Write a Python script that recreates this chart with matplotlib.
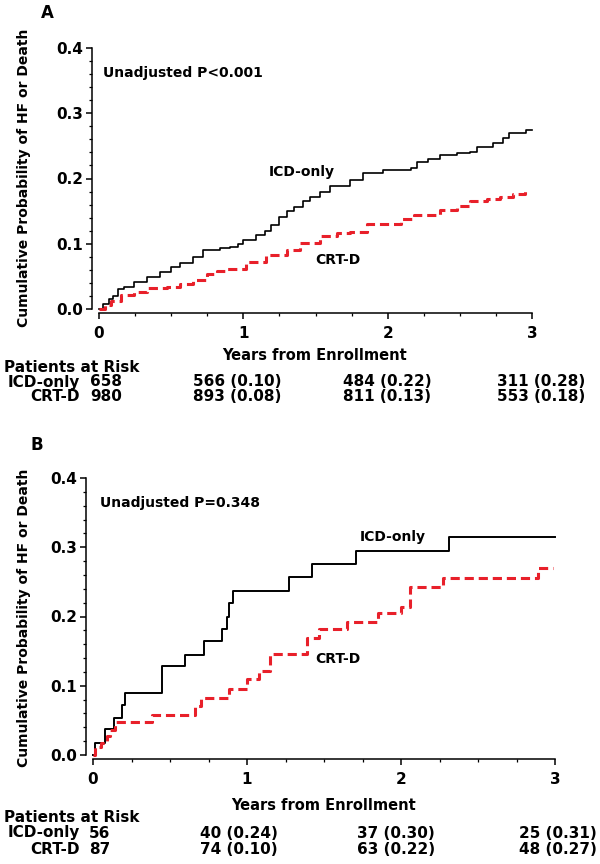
import matplotlib
matplotlib.use("Agg")
import matplotlib.pyplot as plt
from matplotlib.ticker import MultipleLocator

# panel A: all patients (years, cumulative probability)
a_icd_t = [0, 0.03, 0.07, 0.10, 0.13, 0.17, 0.24, 0.33, 0.42, 0.50, 0.56, 0.65, 0.72, 0.84,
           0.91, 0.96, 1.00, 1.09, 1.15, 1.19, 1.25, 1.30, 1.35, 1.41, 1.46, 1.53, 1.60, 1.74,
           1.83, 1.97, 2.16, 2.20, 2.28, 2.36, 2.48, 2.57, 2.62, 2.73, 2.80, 2.84, 2.96, 3.00]
a_icd_p = [0, 0.008, 0.015, 0.020, 0.030, 0.034, 0.041, 0.049, 0.057, 0.064, 0.070, 0.080, 0.090, 0.093,
           0.095, 0.100, 0.106, 0.113, 0.120, 0.129, 0.141, 0.150, 0.157, 0.165, 0.172, 0.179, 0.189, 0.197,
           0.208, 0.213, 0.216, 0.225, 0.230, 0.236, 0.239, 0.241, 0.248, 0.254, 0.262, 0.270, 0.274, 0.274]
a_crt_t = [0, 0.04, 0.08, 0.15, 0.24, 0.33, 0.47, 0.56, 0.65, 0.75, 0.82, 0.89, 1.02, 1.16, 1.30,
           1.39, 1.53, 1.65, 1.74, 1.86, 2.09, 2.18, 2.36, 2.48, 2.57, 2.69, 2.78, 2.87, 2.95, 2.98]
a_crt_p = [0, 0.006, 0.012, 0.021, 0.026, 0.032, 0.034, 0.039, 0.044, 0.054, 0.058, 0.062, 0.072, 0.082, 0.090,
           0.101, 0.112, 0.116, 0.118, 0.131, 0.138, 0.144, 0.152, 0.158, 0.166, 0.168, 0.172, 0.177, 0.181, 0.181]

# panel B
b_icd_t = [0, 0.01, 0.08, 0.136, 0.186, 0.21, 0.45, 0.60, 0.72, 0.84, 0.87, 0.88, 0.91, 1.27, 1.42, 1.71, 2.31, 3.0]
b_icd_p = [0, 0.018, 0.037, 0.054, 0.072, 0.090, 0.128, 0.145, 0.165, 0.182, 0.200, 0.219, 0.237, 0.257, 0.276, 0.294, 0.315, 0.315]
b_crt_t = [0, 0.01, 0.05, 0.09, 0.11, 0.14, 0.38, 0.66, 0.70, 0.88, 1.00, 1.08, 1.15, 1.39, 1.47, 1.65,
           1.85, 2.00, 2.06, 2.27, 2.89, 2.99]
b_crt_p = [0, 0.011, 0.018, 0.027, 0.036, 0.048, 0.058, 0.071, 0.083, 0.096, 0.110, 0.122, 0.146, 0.169, 0.182, 0.192,
           0.205, 0.214, 0.243, 0.255, 0.270, 0.270]

# patients at risk tables
a_risk_icd = ["658", "566 (0.10)", "484 (0.22)", "311 (0.28)"]
a_risk_crt = ["980", "893 (0.08)", "811 (0.13)", "553 (0.18)"]
b_risk_icd = ["56", "40 (0.24)", "37 (0.30)", "25 (0.31)"]
b_risk_crt = ["87", "74 (0.10)", "63 (0.22)", "48 (0.27)"]

W, H = 600, 864
RED = "#e8202a"
FS = 10
TFS = 11

fig = plt.figure(figsize=(6, 8.64), dpi=100)


def fx(x):
    return x / W


def fy(y):
    return 1 - y / H


def panel(box, icd_t, icd_p, crt_t, crt_p, lw_icd):
    x0, y0, x1, y1 = box
    ax = fig.add_axes([fx(x0), fy(y1), (x1 - x0) / W, (y1 - y0) / H])
    ax.plot(icd_t, icd_p, drawstyle="steps-post", color="black", lw=lw_icd, clip_on=False)
    ax.plot(crt_t, crt_p, drawstyle="steps-post", color=RED, lw=2.2,
            dashes=(3.0, 1.6), clip_on=False)
    ax.set_xlim(0, 3)
    ax.set_ylim(0, 0.4)
    for s in ["top", "right"]:
        ax.spines[s].set_visible(False)
    ax.spines["left"].set_position(("outward", 5))
    ax.spines["bottom"].set_position(("outward", 3))
    ax.spines["left"].set_linewidth(1.1)
    ax.spines["bottom"].set_linewidth(1.1)
    ax.xaxis.set_minor_locator(MultipleLocator(0.25))
    ax.yaxis.set_minor_locator(MultipleLocator(0.02))
    ax.tick_params(which="major", length=4.5, width=1.1, labelsize=FS + 1, pad=2)
    ax.tick_params(which="minor", length=2.5, width=0.9)
    ax.tick_params(axis="x", which="major", pad=5)
    ax.set_yticks([0, 0.1, 0.2, 0.3, 0.4])
    ax.set_yticklabels(["0.0", "0.1", "0.2", "0.3", "0.4"], fontweight="bold")
    ax.set_xticks([0, 1, 2, 3])
    ax.set_xticklabels(["0", "1", "2", "3"], fontweight="bold")
    return ax


def txt(x, y, s, ha="left", size=FS, **kw):
    fig.text(fx(x), fy(y), s, ha=ha, va="center", fontsize=size, fontweight="bold", **kw)


# ---- panel A ----
panel((99, 48, 532, 309), a_icd_t, a_icd_p, a_crt_t, a_crt_p, 1.2)
txt(47, 13, "A", ha="center", size=12)
txt(103, 73, "Unadjusted P<0.001")
txt(302, 172, "ICD-only", ha="center")
txt(338, 260, "CRT-D", ha="center")
txt(24, 178, "Cumulative Probability of HF or Death", ha="center", rotation=90)
txt(315, 355, "Years from Enrollment", ha="center", size=10.5)
txt(4, 367, "Patients at Risk", size=TFS)
txt(80, 382, "ICD-only", ha="right", size=TFS)
txt(80, 397, "CRT-D", ha="right", size=TFS)
a_cols = [90, 193, 343, 497]
for i in range(4):
    txt(a_cols[i], 382, a_risk_icd[i], size=TFS)
    txt(a_cols[i], 397, a_risk_crt[i], size=TFS)

# ---- panel B ----
panel((93, 478, 555, 755), b_icd_t, b_icd_p, b_crt_t, b_crt_p, 1.4)
txt(37, 445, "B", ha="center", size=12)
txt(100, 503, "Unadjusted P=0.348")
txt(393, 537, "ICD-only", ha="center")
txt(338, 659, "CRT-D", ha="center")
txt(24, 618, "Cumulative Probability of HF or Death", ha="center", rotation=90)
txt(324, 806, "Years from Enrollment", ha="center", size=10.5)
txt(4, 817, "Patients at Risk", size=TFS)
txt(80, 833, "ICD-only", ha="right", size=TFS)
txt(80, 849, "CRT-D", ha="right", size=TFS)
b_cols = [89, 200, 357, 519]
for i in range(4):
    txt(b_cols[i], 833, b_risk_icd[i], size=TFS)
    txt(b_cols[i], 849, b_risk_crt[i], size=TFS)

fig.savefig("out.png", dpi=100)
